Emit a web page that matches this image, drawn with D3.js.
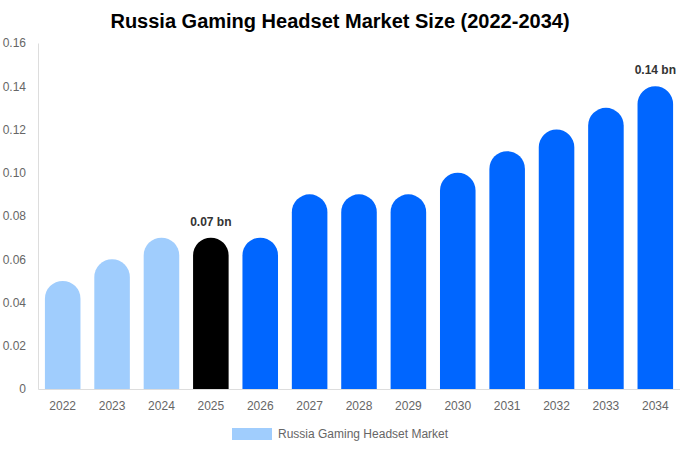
<!DOCTYPE html>
<html>
<head>
<meta charset="utf-8">
<script src="https://cdn.jsdelivr.net/npm/d3@7"></script>
<style>
  body { margin: 0; background: #fff; font-family: "Liberation Sans", Arial, sans-serif; }
</style>
</head>
<body>
<script>
const years = ['2022','2023','2024','2025','2026','2027','2028','2029','2030','2031','2032','2033','2034'];
const values = [0.05, 0.06, 0.07, 0.07, 0.07, 0.09, 0.09, 0.09, 0.10, 0.11, 0.12, 0.13, 0.14];
const yTicks = [0, 0.02, 0.04, 0.06, 0.08, 0.10, 0.12, 0.14, 0.16];
const labelled = {'2025': '0.07 bn', '2034': '0.14 bn'};

const w = 680, h = 450;
const mLeft = 38, mRight = 680, mTop = 43, mBottom = 389;

const svg = d3.select('body').append('svg')
  .attr('width', w)
  .attr('height', h);

svg.append('text')
  .attr('x', w / 2).attr('y', 28)
  .attr('text-anchor', 'middle')
  .style('font-size', '20px').style('font-weight', 'bold').style('fill', '#000')
  .text('Russia Gaming Headset Market Size (2022-2034)');

const x = d3.scaleBand().domain(years).range([mLeft, mRight]).paddingInner(0.28).paddingOuter(0.14);
const y = d3.scaleLinear().domain([0, 0.16]).range([mBottom, mTop]);

// axes
const yAxis = svg.append('g').attr('transform', `translate(${mLeft},0)`)
  .call(d3.axisLeft(y).tickValues(yTicks).tickSize(0).tickPadding(12)
    .tickFormat(d => d === 0 ? '0' : d3.format('.2f')(d)));
yAxis.select('.domain').attr('stroke', '#ddd');
yAxis.selectAll('text').style('font-size', '12px').style('fill', '#666')
  .style('font-family', '"Liberation Sans", Arial, sans-serif');

const xAxis = svg.append('g').attr('transform', `translate(0,${mBottom})`)
  .call(d3.axisBottom(x).tickSize(0).tickPadding(12));
xAxis.select('.domain').attr('stroke', '#ddd');
xAxis.selectAll('text').style('font-size', '12px').style('fill', '#666')
  .style('font-family', '"Liberation Sans", Arial, sans-serif');

function color(yr) {
  if (yr < '2025') return '#a0cdfd';
  if (yr === '2025') return '#000000';
  return '#0066ff';
}

// bar with rounded top
function barPath(d, i) {
  const x0 = x(years[i]), bw = x.bandwidth(), r = bw / 2;
  const yt = y(d), yb = y(0);
  return `M${x0},${yb} L${x0},${yt + r} A${r},${r} 0 0 1 ${x0 + bw},${yt + r} L${x0 + bw},${yb} Z`;
}

svg.selectAll('path.bar')
  .data(values)
  .enter()
  .append('path')
  .attr('class', 'bar')
  .attr('d', barPath)
  .attr('fill', (d, i) => color(years[i]));

svg.selectAll('text.lbl')
  .data(years.filter(yr => labelled[yr]))
  .enter()
  .append('text')
  .attr('class', 'lbl')
  .attr('x', yr => x(yr) + x.bandwidth() / 2)
  .attr('y', yr => y(values[years.indexOf(yr)]) - 12)
  .attr('text-anchor', 'middle')
  .style('font-size', '12px').style('font-weight', 'bold').style('fill', '#333')
  .text(yr => labelled[yr]);

// legend
svg.append('rect')
  .attr('x', 232).attr('y', 428).attr('width', 40).attr('height', 12)
  .attr('fill', '#a0cdfd');
svg.append('text')
  .attr('x', 278).attr('y', 438)
  .style('font-size', '12px').style('fill', '#666')
  .text('Russia Gaming Headset Market');
</script>
</body>
</html>
